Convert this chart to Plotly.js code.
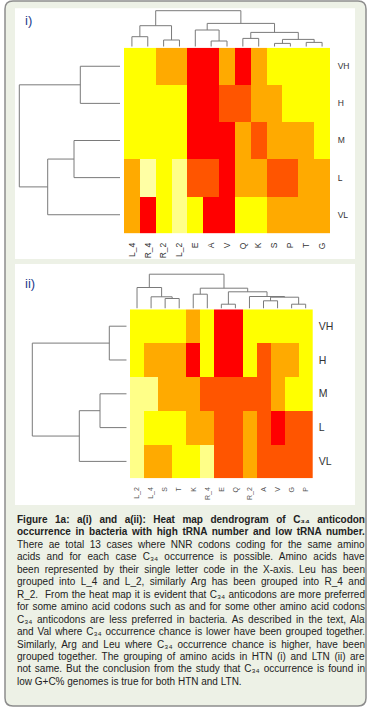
<!DOCTYPE html>
<html>
<head>
<meta charset="utf-8">
<script src="https://cdn.plot.ly/plotly-3.0.1.min.js"></script>
<style>html,body{margin:0;padding:0;background:#fff;}#chart{width:377px;height:717px;}</style>
</head>
<body>
<div id="chart"></div>
<script>
// ---------------- DATA ----------------
// colour levels: 1 red, 2 red-orange, 3 orange, 4 yellow, 5 pale yellow, 6 paler yellow
const rowsI = ["VH", "H", "M", "L", "VL"];
const colsI = ["L_4", "R_4", "R_2", "L_2", "E", "A", "V", "Q", "K", "S", "P", "T", "G"];
const zI = [
  [4, 4, 3, 3, 1, 1, 3, 1, 3, 4, 4, 4, 4],
  [4, 4, 4, 4, 1, 1, 2, 2, 3, 3, 4, 4, 4],
  [4, 4, 4, 4, 1, 1, 1, 3, 2, 3, 3, 3, 4],
  [3, 6, 4, 5, 2, 2, 1, 3, 3, 2, 2, 3, 3],
  [3, 1, 4, 5, 4, 1, 1, 4, 4, 3, 3, 3, 3]
];
// dendrogram merges (R style: negative = leaf, positive = earlier merge), third value = height
const colMergesI = [
  [-1, -2, 10], [-3, -4, 6.7], [1, 2, 21], [-6, -7, 5.7], [-5, 4, 16.7],
  [-8, -9, 8.3], [-10, -11, 3.3], [-12, -13, 4.3], [7, 8, 7.3], [6, 9, 14.3],
  [5, 10, 23.3], [3, 11, 36]
];
const rowMergesI = [[-1, -2, 39.7], [-3, -4, 46], [2, -5, 72.3], [1, 3, 100.7]];

const rowsII = ["VH", "H", "M", "L", "VL"];
const colsII = ["L_2", "L_4", "S", "T", "K", "R_4", "E", "Q", "R_2", "A", "V", "G", "P"];
const zII = [
  [4, 4, 4, 4, 3, 4, 1, 1, 4, 4, 4, 4, 4],
  [4, 3, 3, 3, 1, 4, 1, 1, 4, 2, 3, 3, 4],
  [5, 5, 3, 3, 3, 2, 2, 2, 2, 2, 3, 4, 4],
  [5, 4, 4, 4, 3, 3, 2, 2, 3, 2, 1, 2, 2],
  [5, 3, 3, 4, 4, 5, 2, 2, 3, 2, 2, 2, 2]
];
const colMergesII = [
  [-3, -4, 10], [-2, 1, 11.7], [-1, 2, 21], [-5, -6, 14.3], [-7, -8, 4.3],
  [-10, -11, 7.7], [-12, -13, 4.3], [6, 7, 11.3], [-9, 8, 12], [5, 9, 16.7],
  [4, 10, 20.3], [3, 11, 34.3]
];
const rowMergesII = [[-1, -2, 17.4], [-3, -4, 26.7], [2, -5, 47.4], [1, 3, 94.4]];

const levelColors = ["#FF0000", "#FF5500", "#FFAA00", "#FFFF00", "#FFFF88", "#FFFFA4"];

const captionLines = [
  "<b>Figure 1a: a(i) and a(ii): Heat map dendrogram of C₃₄ anticodon</b>",
  "<b>occurrence in bacteria with high tRNA number and low tRNA number.</b>",
  "There ae total 13 cases where NNR codons coding for the same amino",
  "acids and for each case C₃₄ occurrence is possible. Amino acids have",
  "been represented by their single letter code in the X-axis. Leu has been",
  "grouped into L_4 and L_2, similarly Arg has been grouped into R_4 and",
  "R_2.  From the heat map it is evident that C₃₄ anticodons are more preferred",
  "for some amino acid codons such as and for some other amino acid codons",
  "C₃₄ anticodons are less preferred in bacteria. As described in the text, Ala",
  "and Val where C₃₄ occurrence chance is lower have been grouped together.",
  "Similarly, Arg and Leu where C₃₄ occurrence chance is higher, have been",
  "grouped together. The grouping of amino acids in HTN (i) and LTN (ii) are",
  "not same. But the conclusion from the study that C₃₄ occurrence is found in",
  "low G+C% genomes is true for both HTN and LTN."
];

// ---------------- HELPERS ----------------
const W = 377, H = 717;
const px = v => v / W;
const py = v => 1 - v / H;
const dom = (a, b) => [px(a), px(b)];
const domY = (top, bottom) => [py(bottom), py(top)];

function dendro(merges) {
  const pos = [], hts = [], p = [], h = [];
  merges.forEach(([a, b, ht]) => {
    const pa = a < 0 ? -a - 1 : pos[a - 1], ha = a < 0 ? 0 : hts[a - 1];
    const pb = b < 0 ? -b - 1 : pos[b - 1], hb = b < 0 ? 0 : hts[b - 1];
    p.push(pa, pa, pb, pb, null);
    h.push(ha, ht, ht, hb, null);
    pos.push((pa + pb) / 2);
    hts.push(ht);
  });
  return { p, h };
}

function stepScale(n) {
  const cs = [];
  for (let i = 0; i < n; i++) {
    cs.push([i / n, levelColors[i]]);
    cs.push([(i + 1) / n, levelColors[i]]);
  }
  return cs;
}
const cscale = stepScale(levelColors.length);
const idx = n => Array.from({ length: n }, (_, i) => i);

const lineStyle = { color: "#7a7a7a", width: 1 };
const dCI = dendro(colMergesI), dRI = dendro(rowMergesI);
const dCII = dendro(colMergesII), dRII = dendro(rowMergesII);

const traces = [
  { type: "heatmap", z: zI, x: idx(colsI.length), y: idx(rowsI.length), xaxis: "x", yaxis: "y",
    colorscale: cscale, zmin: 0.5, zmax: 6.5, showscale: false, hoverinfo: "skip" },
  { type: "scatter", mode: "lines", x: dRI.h, y: dRI.p, xaxis: "x2", yaxis: "y2", line: lineStyle, hoverinfo: "skip" },
  { type: "scatter", mode: "lines", x: dCI.p, y: dCI.h, xaxis: "x3", yaxis: "y3", line: lineStyle, hoverinfo: "skip" },
  { type: "heatmap", z: zII, x: idx(colsII.length), y: idx(rowsII.length), xaxis: "x4", yaxis: "y4",
    colorscale: cscale, zmin: 0.5, zmax: 6.5, showscale: false, hoverinfo: "skip" },
  { type: "scatter", mode: "lines", x: dRII.h, y: dRII.p, xaxis: "x5", yaxis: "y5", line: lineStyle, hoverinfo: "skip" },
  { type: "scatter", mode: "lines", x: dCII.p, y: dCII.h, xaxis: "x6", yaxis: "y6", line: lineStyle, hoverinfo: "skip" }
];

const hidden = { visible: false, fixedrange: true };
const FONT = "Liberation Sans, Arial, sans-serif";

// heatmap geometry (pixels)
const hmI = { x0: 124, x1: 330, y0: 47.7, y1: 233.3 };
const hmII = { x0: 130, x1: 312.7, y0: 309.3, y1: 478.3 };

const layout = {
  width: W, height: H,
  margin: { l: 0, r: 0, t: 0, b: 0 },
  paper_bgcolor: "#ffffff", plot_bgcolor: "rgba(0,0,0,0)",
  showlegend: false,
  font: { family: FONT },
  xaxis: { domain: dom(hmI.x0, hmI.x1), anchor: "y", range: [-0.5, 12.5], fixedrange: true,
    tickmode: "array", tickvals: idx(colsI.length), ticktext: colsI, tickangle: -90,
    ticks: "outside", ticklen: 5, tickcolor: "rgba(0,0,0,0)",
    tickfont: { size: 8.5, color: "#333", family: FONT }, showgrid: false, zeroline: false, showline: false },
  yaxis: { domain: domY(hmI.y0, hmI.y1), anchor: "x", range: [4.5, -0.5], fixedrange: true, side: "right",
    tickmode: "array", tickvals: idx(rowsI.length), ticktext: rowsI,
    ticks: "outside", ticklen: 5, tickcolor: "rgba(0,0,0,0)",
    tickfont: { size: 8.5, color: "#333", family: FONT }, showgrid: false, zeroline: false, showline: false },
  xaxis2: Object.assign({ domain: dom(0, 120), anchor: "y2", range: [120, 0] }, hidden),
  yaxis2: Object.assign({ domain: domY(hmI.y0, hmI.y1), anchor: "x2", range: [4.5, -0.5] }, hidden),
  xaxis3: Object.assign({ domain: dom(hmI.x0, hmI.x1), anchor: "y3", range: [-0.5, 12.5] }, hidden),
  yaxis3: Object.assign({ domain: domY(8, 46.7), anchor: "x3", range: [0, 38.7] }, hidden),

  xaxis4: { domain: dom(hmII.x0, hmII.x1), anchor: "y4", range: [-0.5, 12.5], fixedrange: true,
    tickmode: "array", tickvals: idx(colsII.length), ticktext: colsII, tickangle: -90,
    ticks: "outside", ticklen: 5, tickcolor: "rgba(0,0,0,0)",
    tickfont: { size: 7, color: "#555", family: FONT }, showgrid: false, zeroline: false, showline: false },
  yaxis4: { domain: domY(hmII.y0, hmII.y1), anchor: "x4", range: [4.5, -0.5], fixedrange: true, side: "right",
    tickmode: "array", tickvals: idx(rowsII.length), ticktext: rowsII,
    ticks: "outside", ticklen: 3, tickcolor: "rgba(0,0,0,0)",
    tickfont: { size: 10.5, color: "#333", family: FONT }, showgrid: false, zeroline: false, showline: false },
  xaxis5: Object.assign({ domain: dom(0, 126.7), anchor: "y5", range: [126.7, 0] }, hidden),
  yaxis5: Object.assign({ domain: domY(hmII.y0, hmII.y1), anchor: "x5", range: [4.5, -0.5] }, hidden),
  xaxis6: Object.assign({ domain: dom(hmII.x0, hmII.x1), anchor: "y6", range: [-0.5, 12.5] }, hidden),
  yaxis6: Object.assign({ domain: domY(265, 308.5), anchor: "x6", range: [0, 43.5] }, hidden),
  shapes: [],
  annotations: []
};

// frame (rounded) and white panels
function roundRect(x0, y0, x1, y1, r) {
  const X = v => px(v), Y = v => py(v);
  return `M ${X(x0 + r)},${Y(y0)} L ${X(x1 - r)},${Y(y0)} Q ${X(x1)},${Y(y0)} ${X(x1)},${Y(y0 + r)} ` +
    `L ${X(x1)},${Y(y1 - r)} Q ${X(x1)},${Y(y1)} ${X(x1 - r)},${Y(y1)} L ${X(x0 + r)},${Y(y1)} ` +
    `Q ${X(x0)},${Y(y1)} ${X(x0)},${Y(y1 - r)} L ${X(x0)},${Y(y0 + r)} Q ${X(x0)},${Y(y0)} ${X(x0 + r)},${Y(y0)} Z`;
}
layout.shapes.push({ type: "path", xref: "paper", yref: "paper", layer: "below",
  path: roundRect(5, 1, 366, 706, 8), fillcolor: "#edf1e6", line: { color: "#8d8d8d", width: 1.5 } });
[[15, 8.3, 355, 259], [15, 264, 355, 505]].forEach(([a, b, c, d]) => {
  layout.shapes.push({ type: "rect", xref: "paper", yref: "paper", layer: "below",
    x0: px(a), x1: px(c), y0: py(d), y1: py(b), fillcolor: "#ffffff", line: { width: 0 } });
});

// panel labels
[["i)", 22.5, 20.5], ["ii)", 22.5, 283]].forEach(([t, x, y]) => {
  layout.annotations.push({ xref: "paper", yref: "paper", x: px(x), y: py(y), xanchor: "left", yanchor: "middle",
    text: t, showarrow: false, font: { size: 13, color: "#233c8c", family: FONT } });
});

// caption
const CAP_X0 = 15, CAP_X1 = 363, CAP_Y0 = 519.5, CAP_DY = 12.45;
const capStart = layout.annotations.length;
captionLines.forEach((t, i) => {
  layout.annotations.push({ xref: "paper", yref: "paper", x: px(CAP_X0), y: py(CAP_Y0 + i * CAP_DY),
    xanchor: "left", yanchor: "middle", align: "left", text: t, showarrow: false,
    font: { size: 10, color: "#222", family: FONT } });
});

Plotly.newPlot("chart", traces, layout, { staticPlot: true, displayModeBar: false }).then(gd => {
  // justify caption lines (all but the last), like the reference's justified paragraph
  gd.querySelectorAll(".annotation").forEach(g => {
    const i = +g.getAttribute("data-index") - capStart;
    if (i < 0 || i >= captionLines.length - 1) return;
    const txt = g.querySelector("text.annotation-text");
    if (!txt) return;
    const w = txt.getBBox().width;
    const spaces = (txt.textContent.match(/ /g) || []).length;
    if (spaces > 0) {
      const extra = (CAP_X1 - CAP_X0 - w) / spaces;
      txt.style.wordSpacing = extra.toFixed(2) + "px";
    }
  });
});
</script>
</body>
</html>
